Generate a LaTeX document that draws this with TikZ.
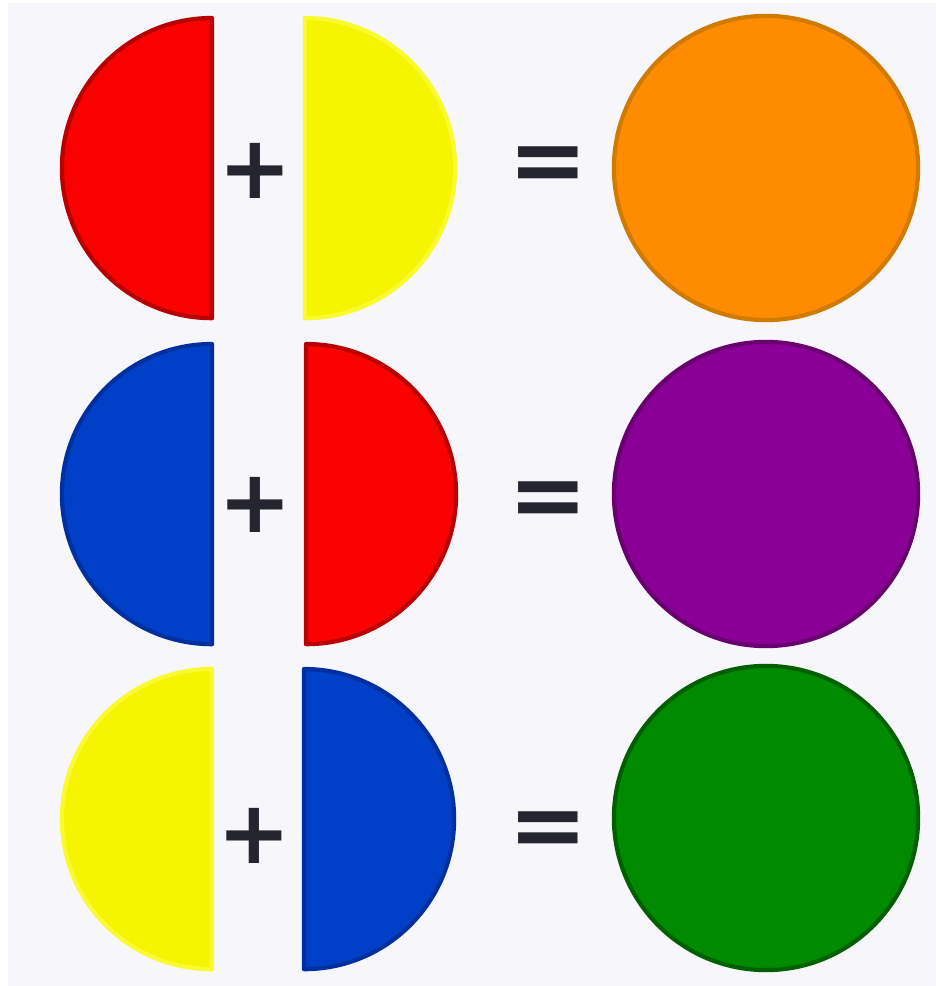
\documentclass[tikz,border=0pt]{standalone}
\usepackage{fontspec}
\setmainfont{DejaVu Sans}
\definecolor{bg}{HTML}{F6F6FB}
\definecolor{redF}{HTML}{FA0000}
\definecolor{redD}{HTML}{B80000}
\definecolor{yelF}{HTML}{F5F500}
\definecolor{yelD}{HTML}{FAFA30}
\definecolor{bluF}{HTML}{0040C8}
\definecolor{bluD}{HTML}{0030A0}
\definecolor{oraF}{HTML}{FF8C00}
\definecolor{oraD}{HTML}{D07A00}
\definecolor{purF}{HTML}{8A0096}
\definecolor{purD}{HTML}{680070}
\definecolor{grnF}{HTML}{008A00}
\definecolor{grnD}{HTML}{006000}
\definecolor{sym}{HTML}{25252F}
\tikzset{
  halfL/.style={line width=1.2pt, line join=round},
  halfR/.style={line width=1.2pt, line join=round},
  mix/.style={line width=1.2pt},
  plussign/.style={text=sym, font=\fontsize{25}{25}\selectfont\bfseries, inner sep=0pt},
  eqsign/.style={text=sym, font=\fontsize{27}{27}\selectfont\bfseries, inner sep=0pt},
}
\begin{document}
\begin{tikzpicture}[x=0.01cm,y=-0.01cm]
\fill[bg] (0,0) rectangle (936,986);
\useasboundingbox (0,0) rectangle (936,986);
\fill[white] (0,0) rectangle (8,986);
\fill[white] (0,0) rectangle (936,3);
% row 1
\filldraw[halfL, fill=redF, draw=redD] (212,18) arc[start angle=90, end angle=270, radius=1.5cm] -- cycle;
\filldraw[halfR, fill=yelF, draw=yelD] (305,18) arc[start angle=90, end angle=-90, radius=1.5cm] -- cycle;
\node[plussign] (p1) at (255,171) {+};
\node[eqsign] (e1) at (548,170) {=};
\filldraw[mix, fill=oraF, draw=oraD] (766,168) circle[radius=1.52cm];
% row 2
\filldraw[halfL, fill=bluF, draw=bluD] (212,344) arc[start angle=90, end angle=270, radius=1.5cm] -- cycle;
\filldraw[halfR, fill=redF, draw=redD] (306,344) arc[start angle=90, end angle=-90, radius=1.5cm] -- cycle;
\node[plussign] (p2) at (255,505) {+};
\node[eqsign] (e2) at (548,505) {=};
\filldraw[mix, fill=purF, draw=purD] (766,494) circle[radius=1.52cm];
% row 3
\filldraw[halfL, fill=yelF, draw=yelD] (212,669) arc[start angle=90, end angle=270, radius=1.5cm] -- cycle;
\filldraw[halfR, fill=bluF, draw=bluD] (304,669) arc[start angle=90, end angle=-90, radius=1.5cm] -- cycle;
\node[plussign] (p3) at (254,836) {+};
\node[eqsign] (e3) at (548,835) {=};
\filldraw[mix, fill=grnF, draw=grnD] (766,818) circle[radius=1.52cm];
\end{tikzpicture}
\end{document}
